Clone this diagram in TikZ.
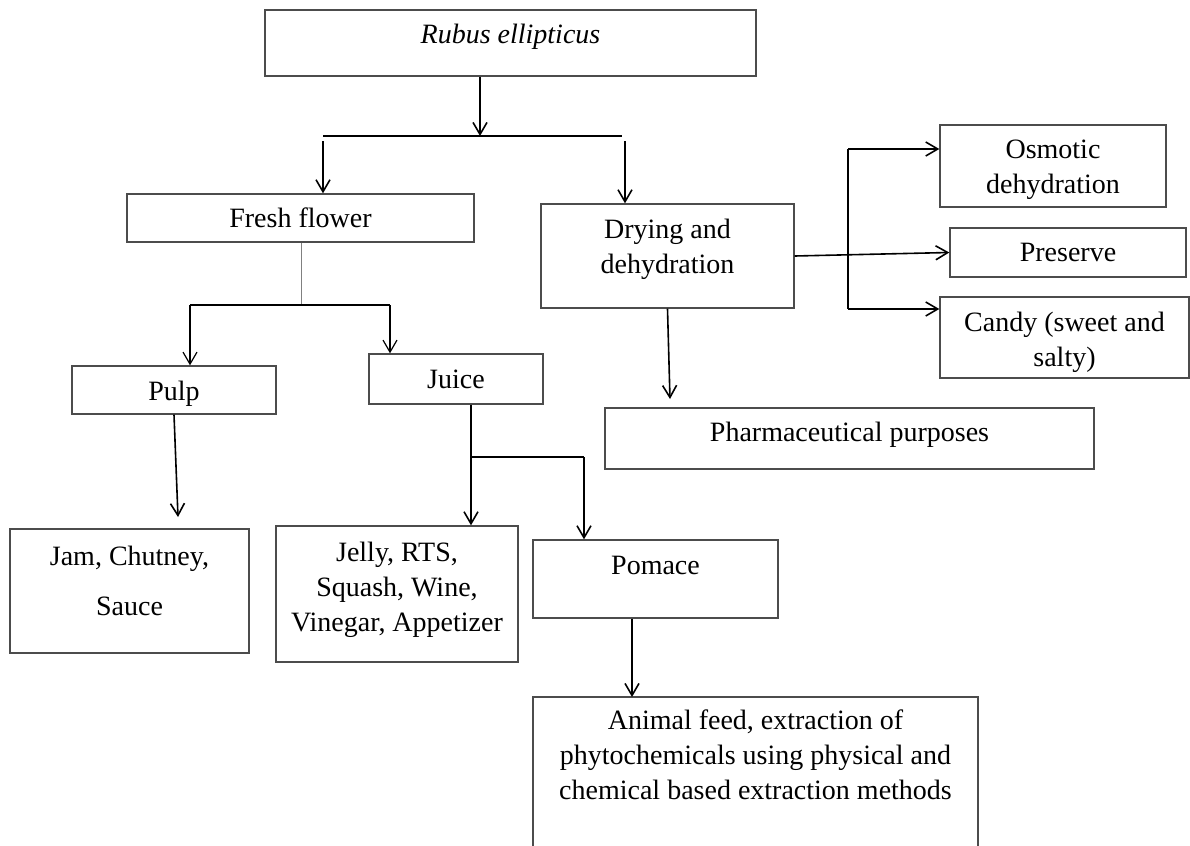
\documentclass[tikz,border=0pt]{standalone}
\usepackage{fontspec}
\setmainfont{Liberation Serif}
\usetikzlibrary{arrows.meta}

% invisible struts: depth below the last line lifts the text, height above the first line lowers it
\newcommand{\lowerpad}[1]{\rule[-#1]{0pt}{#1}}
\newcommand{\upperpad}[1]{\rule{0pt}{#1}}

\tikzset{
  box/.style={draw=black!70,line width=0.7pt,align=center,inner sep=0pt,
    font=\fontsize{14}{17.5}\selectfont},
  link/.style={line width=0.8pt},
  thinlink/.style={line width=0.6pt},
}

\begin{document}
\begin{tikzpicture}[x=0.5pt,y=-0.5pt,>={Straight Barb[length=6pt,width=7pt]}]
\useasboundingbox (0,0) rectangle (1190,846);
\clip (0,0) rectangle (1190,846);

% boxes
\node[box,minimum width=245.5pt,minimum height=33pt] (rubus) at (510.5,43) {\textit{Rubus ellipticus}\lowerpad{9pt}};
\node[box,minimum width=173.5pt,minimum height=24pt] (fresh) at (300.5,218) {Fresh flower};
\node[box,minimum width=126.5pt,minimum height=52pt] (drying) at (667.5,256) {Drying and\\dehydration\lowerpad{10pt}};
\node[box,minimum width=113pt,minimum height=41pt] (osmotic) at (1053,166) {\upperpad{13.5pt}Osmotic\\dehydration};
\node[box,minimum width=118pt,minimum height=24.5pt] (preserve) at (1068,252.5) {Preserve};
\node[box,minimum width=124.5pt,minimum height=40.5pt] (candy) at (1064.5,337.5) {\upperpad{14.5pt}Candy (sweet and\\salty)};
\node[box,minimum width=244.5pt,minimum height=30.5pt] (pharma) at (849.5,438.5) {Pharmaceutical purposes\lowerpad{7pt}};
\node[box,minimum width=102pt,minimum height=24pt] (pulp) at (174,390) {\upperpad{13.5pt}Pulp};
\node[box,minimum width=87pt,minimum height=25pt] (juice) at (456,379) {Juice};
\node[box,minimum width=119.5pt,minimum height=62pt] (jam) at (129.5,591) {Jam, Chutney,\\[7.5pt]Sauce\lowerpad{10pt}};
\node[box,minimum width=121pt,minimum height=68pt] (jelly) at (397,594) {Jelly, RTS,\\Squash, Wine,\\Vinegar, Appetizer\lowerpad{7pt}};
\node[box,minimum width=122.5pt,minimum height=39pt] (pomace) at (655.5,579) {Pomace\lowerpad{14pt}};
\node[box,minimum width=222.5pt,minimum height=101.5pt] (feed) at (755.5,798.5) {Animal feed, extraction of\\phytochemicals using physical and\\chemical based extraction methods\lowerpad{44pt}};

% branch points
\coordinate (top) at (480,136);
\coordinate (topL) at (323,136);
\coordinate (topR) at (622,136);
\coordinate (dryIn) at (625,141);
\coordinate (fsplit) at (301,305);
\coordinate (pulpIn) at (190,305);
\coordinate (juiceIn) at (390,305);
\coordinate (jamIn) at (178,517);
\coordinate (jsplit) at (471,457);
\coordinate (pomIn) at (584,457);
\coordinate (feedIn) at (632,697);
\coordinate (pharmIn) at (670,399);
\coordinate (vtop) at (848,149);
\coordinate (vbot) at (848,309);

% Rubus ellipticus
\draw[link,->] (rubus.south -| top) -- (top);
\draw[link] (topL) -- (topR);
\draw[link,->] ([yshift=-2.5pt]topL) -- (topL |- fresh.north);
\draw[link,->] (dryIn) -- (dryIn |- drying.north);

% fresh flower
\draw[line width=0.5pt,black!50] (fsplit |- fresh.south) -- (fsplit);
\draw[thinlink] (pulpIn) -- (juiceIn);
\draw[thinlink,->] (pulpIn) -- (pulpIn |- pulp.north);
\draw[thinlink,->] (juiceIn) -- (juiceIn |- juice.north);
\draw[link,->] (pulp.south) -- (jamIn);
\draw[link] (juice.south -| jsplit) -- (jsplit);
\draw[link,->] (jsplit) -- (jsplit |- jelly.north);
\draw[thinlink] (jsplit) -- (pomIn);
\draw[link,->] (pomIn) -- (pomIn |- pomace.north);
\draw[link,->] (feedIn |- pomace.south) -- (feedIn);

% drying
\draw[link,->] (drying.east) -- (preserve.west);
\draw[link] (vtop) -- (vbot);
\draw[link,->] (vtop) -- (vtop -| osmotic.west);
\draw[link,->] (vbot) -- (vbot -| candy.west);
\draw[link,->] (drying.south) -- (pharmIn);
\end{tikzpicture}
\end{document}
